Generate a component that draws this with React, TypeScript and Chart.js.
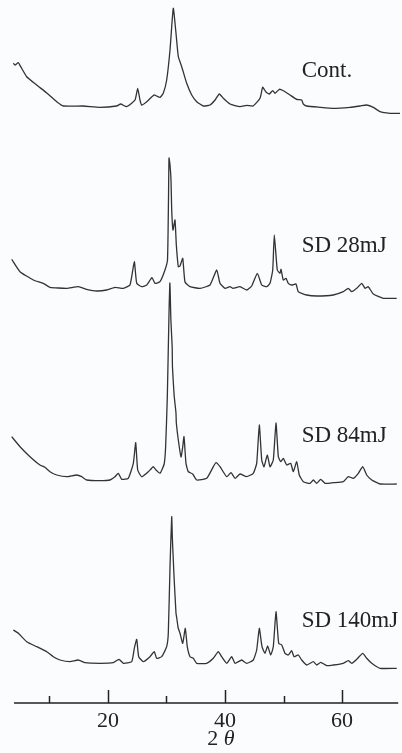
import React, { useEffect, useRef } from "react";
import { Chart, registerables } from "chart.js";

Chart.register(...registerables);

// 2θ (degrees) and intensity (arbitrary units, relative to each trace's baseline)
const contTheta = [3.82, 4.11, 4.68, 5.09, 6.11, 7.82, 9.53, 11.24, 12.37, 15.73, 18.64, 21.49, 22.17, 23.2, 24.62, 25.08, 25.47, 25.76, 26.62, 27.86, 28.32, 28.89, 29.45, 30.03, 30.6, 31.16, 31.62, 32.02, 32.6, 33.45, 34.31, 35.16, 36.29, 37.43, 38.3, 39.02, 39.71, 40.85, 42.56, 43.7, 44.8, 45.98, 46.44, 47.0, 47.57, 48.15, 48.54, 49.28, 49.96, 51.1, 52.25, 53.1, 53.38, 53.96, 56.23, 58.45, 61.36, 63.07, 64.21, 65.34, 66.48, 68.19, 69.9];
const contI = [43.7, 42, 44.3, 40.3, 30.3, 22, 14, 5.3, 1, 1, -0.3, 1, 3, 0.3, 7, 18.7, 7, 2, 5.3, 12, 11, 9.7, 13.7, 27, 57, 98.7, 74, 50.3, 40.3, 23.7, 12, 5.3, 1, 2, 7, 13, 8.7, 3, 0.3, 1.7, 1, 8.7, 19.7, 15, 13, 16.3, 13.7, 17.7, 16.3, 12, 7.7, 7, 3, 1, -0.3, -1.3, -0.3, 1, 2, -0.3, -4.7, -6.3, -6.3];

const sd28Theta = [3.55, 4.97, 7.24, 8.95, 10.09, 12.95, 14.93, 16.36, 18.07, 19.78, 21.2, 22.62, 23.76, 24.5, 24.91, 25.76, 26.62, 27.52, 28.04, 28.89, 29.74, 30.17, 30.34, 30.43, 30.6, 30.77, 30.89, 31.11, 31.45, 31.68, 32.02, 32.31, 32.77, 33.16, 34.02, 35.73, 37.43, 38.58, 39.14, 40.0, 40.85, 41.36, 42.56, 43.7, 44.56, 45.52, 46.27, 47.12, 47.69, 48.15, 48.42, 48.93, 49.4, 49.57, 49.96, 50.42, 50.81, 51.39, 52.13, 52.52, 53.96, 55.67, 58.5, 60.21, 61.07, 61.65, 62.5, 63.36, 63.92, 64.48, 65.34, 67.05, 69.34];
const sd28I = [30.7, 18.3, 10, 6.7, 2.7, 1.7, 3.3, 0.7, -1, 0, 2.7, 1.7, 5, 28.3, 6.7, 3.3, 5, 12.3, 6.7, 8.3, 20, 30, 90, 132, 125, 110, 80, 60, 70, 45, 23.3, 24, 31.7, 8, 3.3, 1.7, 5, 20, 6.7, 1.7, 3.3, 1.7, 3.3, 0, 4, 16.7, 5, 3.3, 6.7, 20, 55, 20, 16.7, 20.7, 10, 11.7, 6.7, 5, 6, -1.7, -5, -6, -5, -1.7, 1.7, -1.7, 1.7, 6.7, 1.7, 3.3, -4, -8.3, -8.3];

const sd84Theta = [3.55, 4.97, 6.68, 8.38, 9.24, 10.09, 11.24, 12.95, 14.66, 15.51, 16.36, 18.64, 20.35, 21.2, 21.76, 22.35, 23.47, 24.33, 24.74, 25.08, 25.76, 26.89, 27.3, 27.75, 28.21, 28.89, 29.6, 29.85, 30.14, 30.43, 30.58, 30.75, 30.97, 31.02, 31.3, 31.62, 31.68, 32.02, 32.48, 32.77, 32.99, 33.33, 33.72, 34.48, 35.16, 36.87, 38.0, 38.46, 39.14, 40.29, 41.02, 41.71, 42.56, 43.7, 44.83, 45.41, 45.86, 46.27, 46.66, 47.23, 47.69, 48.25, 48.71, 49.11, 49.52, 49.96, 50.54, 51.22, 51.67, 52.25, 52.69, 53.38, 54.52, 55.09, 55.67, 56.35, 57.09, 58.5, 60.21, 61.07, 61.92, 62.78, 63.53, 64.21, 65.07, 66.48, 69.34];
const sd84I = [43.3, 33.3, 23.3, 15, 12.7, 8.3, 5, 3.3, 5, 3.3, 0, -0.7, 0, 3.3, 6.7, 0.7, 1.7, 16.7, 37.3, 10, 3.3, 8.3, 10.7, 13.3, 10, 6.7, 16, 33, 83, 167, 197, 160, 133, 113, 85, 67, 57, 40, 23, 33, 43.3, 16.7, 8.3, 6, 0, 1.7, 13.3, 17.3, 13.3, 3.3, 7.3, 1.7, 6, 3.3, 6.7, 16.7, 55, 20, 13.3, 25, 13.3, 20, 57, 23.3, 18.3, 21.7, 15, 16.7, 8.3, 18.3, 5, -1.7, -3.3, 0, -3.3, 0.7, -3.3, -2.7, -1.7, 3.3, 1.7, 6.7, 13.3, 5, 0, -4, -4];

const sd140Theta = [3.82, 4.68, 6.11, 7.82, 9.53, 10.66, 11.8, 13.51, 14.93, 16.07, 18.64, 20.91, 21.88, 22.62, 24.05, 24.5, 24.91, 25.25, 26.04, 27.18, 27.92, 28.32, 29.18, 30.03, 30.31, 30.6, 30.89, 31.0, 31.11, 31.3, 31.62, 31.75, 32.0, 32.31, 32.77, 33.21, 33.55, 34.02, 34.58, 35.16, 36.87, 38.0, 38.85, 39.43, 40.29, 41.14, 41.71, 42.85, 43.7, 44.83, 45.41, 45.86, 46.32, 46.83, 47.29, 47.81, 48.25, 48.71, 49.17, 49.69, 50.25, 50.81, 51.39, 51.79, 52.52, 53.1, 53.96, 55.09, 55.67, 56.35, 57.38, 58.5, 60.21, 61.07, 61.65, 62.5, 63.53, 64.21, 65.07, 66.48, 69.34];
const sd140I = [33, 29.7, 21.3, 16.3, 11.3, 6.3, 3, 1.3, 3, 0.3, -0.3, 0.3, 3.7, -0.3, 1.3, 14.7, 23.7, 6.3, 1.3, 6.3, 11.3, 4.7, 6.3, 16.3, 30, 96, 146.3, 125, 110, 85, 50, 45, 35, 29.7, 19.7, 34.7, 16.3, 6.3, 4.7, -0.3, -0.3, 4.7, 11.3, 6.3, -0.3, 6.3, -0.3, 3, -0.3, 3, 13, 34.7, 16.3, 9.7, 17, 8, 16.3, 51.3, 19.7, 18, 9.7, 8, 12.3, 6.3, 8, 3, -2, 1.3, -2, 0.7, -2.7, -2, -0.3, 2.3, -0.3, 3.7, 9.7, 4.7, -0.3, -5.3, -5.3];

const traceNames = ["Cont.", "SD 28mJ", "SD 84mJ", "SD 140mJ"];
const traceOffsets = [596, 413, 223, 40];
const majorTicks = [20, 40, 60];
const minorTicks = [10, 30, 50];
const xTitleMain = "2";
const xTitleSymbol = "θ";

const X_MIN = 3.6;
const X_MAX = 69.9;
const LABEL_THETA = 53.1;
const LABEL_BASE = [625.7, 451.3, 261.3, 76.3];

const SERIF = '"Liberation Serif", "DejaVu Serif", serif';

const decorPlugin = {
  id: "decor",
  afterDraw(chart: any) {
    const ctx = chart.ctx;
    const xs = chart.scales.x;
    const ys = chart.scales.y;
    const yb = chart.chartArea.bottom;
    ctx.save();
    ctx.strokeStyle = "#222";
    ctx.fillStyle = "#222";
    ctx.lineWidth = 1.6;
    ctx.beginPath();
    ctx.moveTo(xs.getPixelForValue(3.95), yb);
    ctx.lineTo(xs.getPixelForValue(69.6), yb);
    ctx.stroke();
    ctx.lineWidth = 1.5;
    majorTicks.forEach((v) => {
      const px = Math.round(xs.getPixelForValue(v)) + 0.5;
      ctx.beginPath();
      ctx.moveTo(px, yb);
      ctx.lineTo(px, yb - 13);
      ctx.stroke();
    });
    minorTicks.forEach((v) => {
      const px = Math.round(xs.getPixelForValue(v)) + 0.5;
      ctx.beginPath();
      ctx.moveTo(px, yb);
      ctx.lineTo(px, yb - 7);
      ctx.stroke();
    });
    ctx.font = `22px ${SERIF}`;
    ctx.textAlign = "center";
    ctx.textBaseline = "alphabetic";
    majorTicks.forEach((v) => {
      ctx.fillText(String(v), xs.getPixelForValue(v), yb + 24);
    });
    // axis title "2 θ"
    ctx.font = `22px ${SERIF}`;
    const w1 = ctx.measureText(xTitleMain + " ").width;
    ctx.font = `italic 22px ${SERIF}`;
    const w2 = ctx.measureText(xTitleSymbol).width;
    const cx = xs.getPixelForValue(39.3);
    const startX = cx - (w1 + w2) / 2;
    ctx.textAlign = "left";
    ctx.font = `22px ${SERIF}`;
    ctx.fillText(xTitleMain, startX, yb + 42);
    ctx.font = `italic 22px ${SERIF}`;
    ctx.fillText(xTitleSymbol, startX + w1, yb + 42);
    // trace labels
    ctx.font = `23px ${SERIF}`;
    traceNames.forEach((name, i) => {
      ctx.fillText(name, xs.getPixelForValue(LABEL_THETA), ys.getPixelForValue(LABEL_BASE[i]));
    });
    ctx.restore();
  },
};

export default function App() {
  const canvasRef = useRef<HTMLCanvasElement | null>(null);

  useEffect(() => {
    if (!canvasRef.current) return;
    const series = [
      [contTheta, contI],
      [sd28Theta, sd28I],
      [sd84Theta, sd84I],
      [sd140Theta, sd140I],
    ];
    const datasets = series.map(([th, inten], i) => ({
      label: traceNames[i],
      data: th.map((t, k) => ({ x: t, y: inten[k] + traceOffsets[i] })),
      borderColor: "#333333",
      borderWidth: 1.3,
      pointRadius: 0,
      tension: 0.15,
      fill: false,
      clip: false as any,
    }));
    const chart = new Chart(canvasRef.current, {
      type: "line",
      data: { datasets },
      options: {
        animation: false,
        responsive: true,
        maintainAspectRatio: false,
        layout: { padding: { left: 12, right: 2, top: 0, bottom: 50 } },
        plugins: { legend: { display: false }, tooltip: { enabled: false } },
        scales: {
          x: { type: "linear", min: X_MIN, max: X_MAX, display: false },
          y: { type: "linear", min: 0, max: 703, display: false },
        },
      },
      plugins: [decorPlugin],
    });
    return () => chart.destroy();
  }, []);

  return (
    <div style={{ position: "absolute", left: 0, top: 0, width: 402, height: 753, background: "#fbfcfd" }}>
      <canvas ref={canvasRef} style={{ width: "100%", height: "100%" }} />
    </div>
  );
}
